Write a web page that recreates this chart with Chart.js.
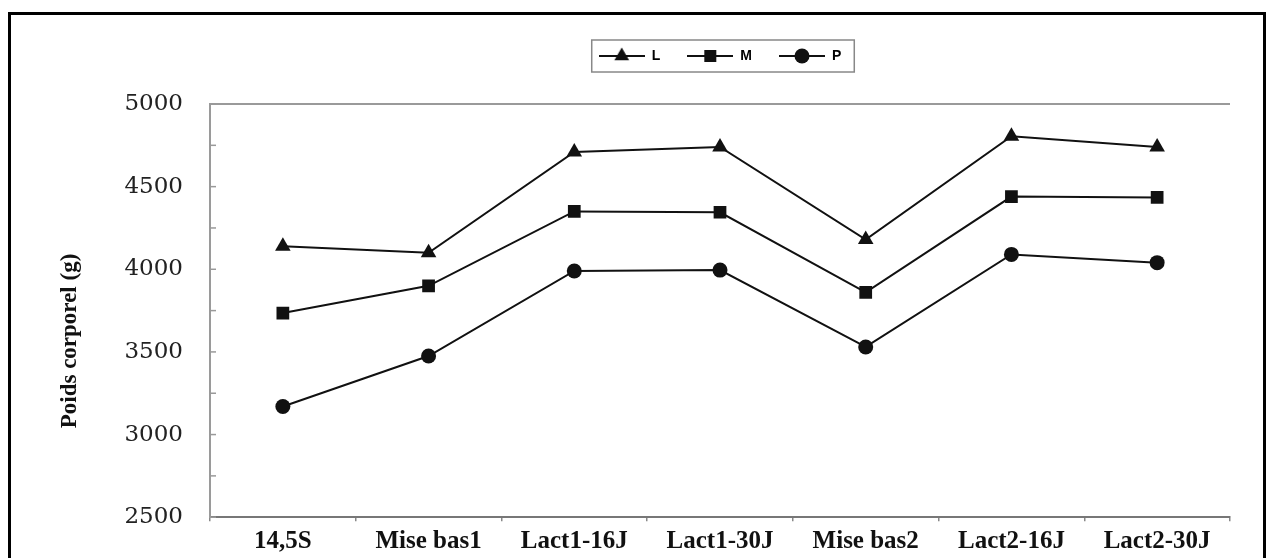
<!DOCTYPE html>
<html>
<head>
<meta charset="utf-8">
<script src="https://cdn.jsdelivr.net/npm/chart.js@4.4.0/dist/chart.umd.min.js"></script>
<style>
  html, body { margin: 0; padding: 0; background: #fff; }
  #cadre { position: absolute; left: 8px; top: 12px; width: 1252px; height: 620px; border: 3px solid #000; border-bottom: none; }
  #zone { position: absolute; left: 0; top: 0; width: 1267px; height: 558px; }
</style>
</head>
<body>
<div id="cadre"></div>
<div id="zone"><canvas id="poids"></canvas></div>
<script>
var periodes = ['14,5S', 'Mise bas1', 'Lact1-16J', 'Lact1-30J', 'Mise bas2', 'Lact2-16J', 'Lact2-30J'];
var poidsL = [4140, 4100, 4710, 4740, 4180, 4805, 4740];
var poidsM = [3735, 3900, 4350, 4345, 3860, 4440, 4435];
var poidsP = [3170, 3475, 3990, 3995, 3530, 4090, 4040];
var nomsSeries = ['L', 'M', 'P'];
var formes = ['triangle', 'rect', 'circle'];
var titreAxeY = 'Poids corporel (g)';

var noir = '#111';

// petite image "trait + marqueur" pour la légende
function iconeLegende(forme) {
    var c = document.createElement('canvas');
    c.width = 46;
    c.height = 18;
    var g = c.getContext('2d');
    g.strokeStyle = noir;
    g.lineWidth = 2;
    g.beginPath();
    g.moveTo(0, 9);
    g.lineTo(46, 9);
    g.stroke();
    g.fillStyle = noir;
    var r = forme === 'circle' ? 7.5 : 8.5;
    Chart.helpers.drawPoint(g, { pointStyle: forme, radius: r, borderWidth: 0, rotation: 0 }, 23, 9);
    return c;
}
var icones = formes.map(iconeLegende);

var decor = {
    id: 'decor',
    beforeLayout: function (chart) {
        var leg = chart.legend;
        if (leg && !leg._fitModifie) {
            var fitOrig = leg.fit;
            leg.fit = function () {
                fitOrig.call(this);
                this.height = 82;
            };
            leg._fitModifie = true;
        }
    },
    afterDraw: function (chart) {
        var ctx = chart.ctx;
        var axeY = chart.scales.y;
        var zone = chart.chartArea;
        ctx.save();

        // graduations tournées vers l'intérieur
        ctx.strokeStyle = '#999';
        ctx.lineWidth = 1.5;
        axeY.ticks.forEach(function (t) {
            var py = axeY.getPixelForValue(t.value);
            ctx.beginPath();
            ctx.moveTo(zone.left, py);
            ctx.lineTo(zone.left + 6, py);
            ctx.stroke();
        });

        // cadre de la légende
        var boites = chart.legend.legendHitBoxes;
        if (boites && boites.length) {
            var premiere = boites[0];
            var derniere = boites[boites.length - 1];
            var milieu = premiere.top + premiere.height / 2;
            ctx.strokeStyle = '#888';
            ctx.lineWidth = 1.5;
            ctx.strokeRect(premiere.left - 7, milieu - 16, derniere.left + derniere.width + 13 - (premiere.left - 7), 32);
        }

        // titre de l'axe Y
        ctx.translate(70, 341);
        ctx.rotate(-Math.PI / 2);
        ctx.font = 'bold 23px "Liberation Serif"';
        ctx.textAlign = 'center';
        ctx.textBaseline = 'middle';
        ctx.fillStyle = noir;
        ctx.fillText(titreAxeY, 0, 0);
        ctx.restore();
    }
};

function serie(nom, valeurs, i) {
    return {
        label: nom,
        data: valeurs,
        borderColor: noir,
        backgroundColor: noir,
        borderWidth: 2,
        pointStyle: formes[i],
        pointRadius: formes[i] === 'circle' ? 7.5 : 9,
        pointHoverRadius: formes[i] === 'circle' ? 7.5 : 9,
        pointBorderWidth: 0,
        tension: 0
    };
}

var graphique = new Chart(document.getElementById('poids'), {
    type: 'line',
    data: {
        labels: periodes,
        datasets: [
            serie(nomsSeries[0], poidsL, 0),
            serie(nomsSeries[1], poidsM, 1),
            serie(nomsSeries[2], poidsP, 2)
        ]
    },
    options: {
        responsive: true,
        maintainAspectRatio: false,
        animation: false,
        layout: { padding: { left: 110, right: 37, top: 22, bottom: 0 } },
        plugins: {
            tooltip: { enabled: false },
            legend: {
                position: 'top',
                fullSize: false,
                labels: {
                    usePointStyle: true,
                    pointStyleWidth: 46,
                    padding: 27,
                    color: '#222',
                    font: { family: '"Liberation Sans Narrow", "Liberation Sans", sans-serif', size: 14, weight: 'bold' },
                    generateLabels: function (chart) {
                        return chart.data.datasets.map(function (ds, i) {
                            return {
                                text: ds.label,
                                pointStyle: icones[i],
                                fillStyle: noir,
                                strokeStyle: noir,
                                lineWidth: 0,
                                hidden: false,
                                datasetIndex: i
                            };
                        });
                    }
                }
            }
        },
        scales: {
            x: {
                offset: true,
                afterFit: function (s) { s.height = 38; },
                grid: { offset: true, drawOnChartArea: false, tickLength: 4, color: '#888', lineWidth: 1.5 },
                border: { color: '#777', width: 2 },
                ticks: {
                    padding: 5,
                    color: noir,
                    maxRotation: 0,
                    autoSkip: false,
                    font: { family: '"Liberation Serif", serif', size: 25, weight: 'bold' }
                }
            },
            y: {
                min: 2500,
                max: 5000,
                afterFit: function (s) { s.width = 100; },
                grid: {
                    drawTicks: false,
                    lineWidth: 2,
                    color: function (c) {
                        return c.tick && c.tick.value === 5000 ? '#9a9a9a' : 'rgba(0,0,0,0)';
                    }
                },
                border: { color: '#9a9a9a', width: 2 },
                ticks: {
                    stepSize: 250,
                    autoSkip: false,
                    padding: 27,
                    color: '#222',
                    font: { family: '"DejaVu Serif", serif', size: 23 },
                    callback: function (v) { return v % 500 === 0 ? v : ''; }
                }
            }
        }
    },
    plugins: [decor]
});
</script>
</body>
</html>
